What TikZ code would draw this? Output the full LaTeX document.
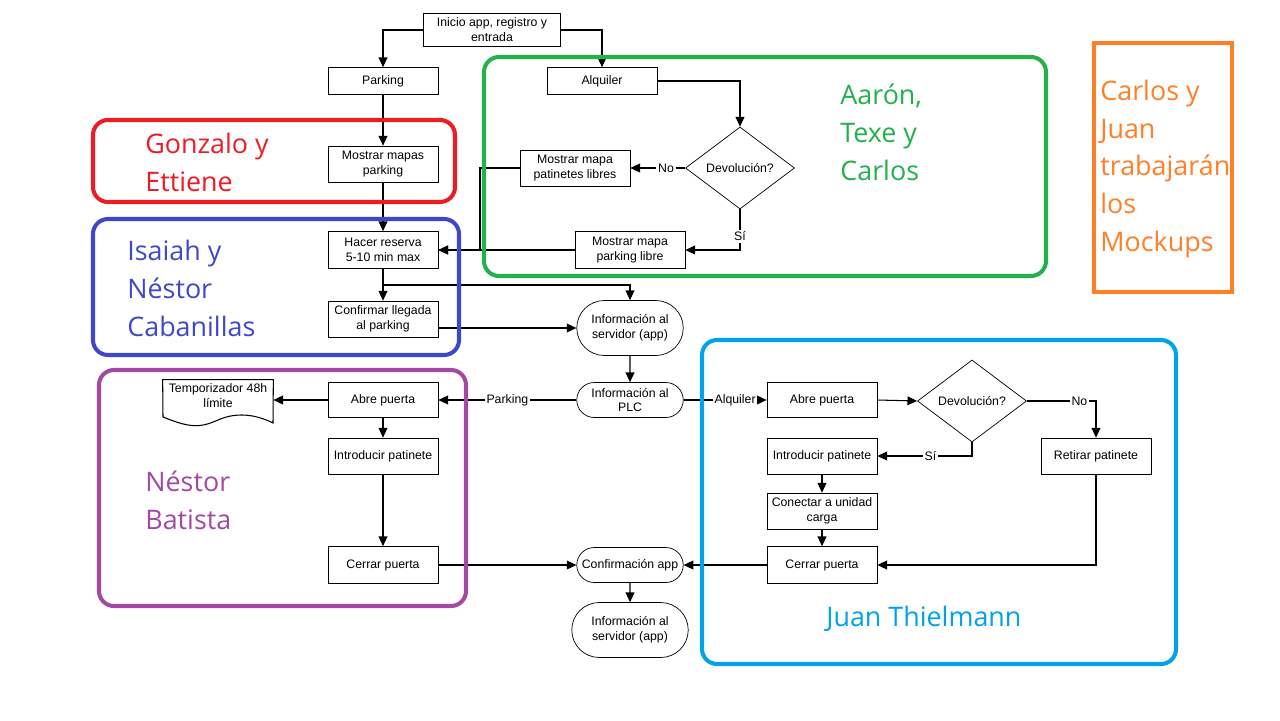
\documentclass[tikz,border=0pt]{standalone}
\usepackage{fontspec}
\setmainfont{Liberation Sans}
\newfontfamily\namefont{Open Sans}
\usetikzlibrary{shapes.geometric,shapes.misc,arrows.meta}

\definecolor{teamred}{RGB}{237,28,36}
\definecolor{teamblue}{RGB}{63,72,204}
\definecolor{teamgreen}{RGB}{34,177,76}
\definecolor{teampurple}{RGB}{163,73,164}
\definecolor{teamcyan}{RGB}{0,162,232}
\definecolor{teamorange}{RGB}{255,127,39}

\tikzstyle{block} = [draw, rectangle, fill=white, minimum width=2.2cm,
    minimum height=0.72cm, inner sep=1pt, align=center,
    font=\fontsize{7}{8.5}\selectfont]
\tikzstyle{pill} = [block, rounded rectangle, minimum height=1.1cm]
\tikzstyle{decision} = [block, diamond, minimum width=2.18cm,
    minimum height=1.64cm, inner sep=0pt]
\tikzstyle{flow} = [draw, line width=0.6pt, -{Triangle[length=5.5pt,width=5pt]}]
\tikzstyle{cond} = [fill=white, inner sep=1pt, font=\fontsize{7}{8.5}\selectfont]
\tikzstyle{team} = [line width=2.3pt, rounded corners=0.3cm]
\tikzstyle{teamname} = [anchor=west, align=left, inner sep=0pt,
    font=\namefont\fontsize{15.3}{21.6}\selectfont]

\begin{document}
\begin{tikzpicture}[x=0.02cm, y=-0.02cm]
\useasboundingbox (0,0) rectangle (1280,720);

% top of the app
\node [block, minimum width=2.74cm, minimum height=0.66cm] (inicio) at (492,30) {Inicio app, registro y\\entrada};
\node [block, minimum height=0.54cm] (parking) at (383,81) {Parking};
\node [block, minimum height=0.54cm] (alquiler) at (602,81) {Alquiler};

% parking branch
\node [block] (mapas) at (383,164) {Mostrar mapas\\parking};
\node [block, minimum height=0.74cm] (reserva) at (383,250) {Hacer reserva\\5-10 min max};
\node [block] (confirmar) at (383,319) {Confirmar llegada\\al parking};

% alquiler branch
\node [decision] (devol1) at (740,168) {Devolución?};
\node [block] (patlibres) at (575,168) {Mostrar mapa\\patinetes libres};
\node [block, minimum height=0.74cm] (parklibre) at (630,250) {Mostrar mapa\\parking libre};

% server and PLC
\node [pill] (info1) at (630,328) {Información al\\servidor (app)};
\node [pill, minimum height=0.7cm] (plc) at (630,400) {Información al\\PLC};

% door, parking side
\node [block, minimum height=0.7cm] (abre1) at (383,400) {Abre puerta};
\node [block, draw=none, fill=none, minimum height=0.64cm] (temp) at (218,396) {Temporizador 48h\\límite};
\node [block] (intro1) at (383,456) {Introducir patinete};
\node [block, minimum height=0.74cm] (cerrar1) at (383,565) {Cerrar puerta};

% door, alquiler side
\node [block, minimum height=0.7cm] (abre2) at (822,400) {Abre puerta};
\node [decision] (devol2) at (972,401) {Devolución?};
\node [block] (intro2) at (822,456) {Introducir patinete};
\node [block] (retirar) at (1096,456) {Retirar patinete};
\node [block] (conectar) at (822,511) {Conectar a unidad\\carga};
\node [block, minimum height=0.74cm] (cerrar2) at (822,565) {Cerrar puerta};

% end
\node [pill, minimum height=0.7cm] (confapp) at (630,565) {Confirmación app};
\node [pill, minimum width=2.4cm] (info2) at (630,630) {Información al\\servidor (app)};

% document shape of the timer
\draw [line width=0.6pt] (temp.north west) -- (temp.north east) -- (273,423)
    .. controls (255,414) and (236,412) .. (218,420)
    .. controls (200,428) and (190,428) .. (163,417) -- cycle;

\coordinate (jn) at (480,250);
\coordinate (br1) at (383,285);

\path [flow] (inicio.west) -| (parking.north);
\path [flow] (inicio.east) -| (alquiler.north);
\path [flow] (parking) -- (mapas);
\path [flow] (mapas) -- (reserva);
\path [flow] (alquiler.east) -| (devol1.north);
\path [flow] (devol1.west) -- node[cond, pos=0.35] {No} (patlibres.east);
\path [flow] (devol1.south) |- node[cond, pos=0.33] {Sí} (parklibre.east);
\path [flow] (patlibres.west) -| (jn) -- (reserva.east);
\path [flow] (parklibre.west) -- (reserva.east);
\path [flow] (reserva) -- (confirmar);
\path [flow] (br1) -| (info1.north);
\path [flow] (info1.west -| confirmar.east) -- (info1.west);
\path [flow] (info1) -- (plc);
\path [flow] (plc.west) -- node[cond] {Parking} (abre1.east);
\path [flow] (abre1.west) -- (temp.east |- abre1.west);
\path [flow] (abre1) -- (intro1);
\path [flow] (intro1) -- (cerrar1);
\path [flow] (cerrar1.east) -- (confapp.west);
\path [flow] (plc.east) -- node[cond, pos=0.62] {Alquiler} (abre2.west);
\path [flow] (abre2.east) -- (devol2.west);
\path [flow] (devol2.east) -| node[cond, pos=0.38] {No} (retirar.north);
\path [flow] (devol2.south) |- node[cond, pos=0.72] {Sí} (intro2.east);
\path [flow] (intro2) -- (conectar);
\path [flow] (conectar) -- (cerrar2);
\path [flow] (retirar.south) |- (cerrar2.east);
\path [flow] (cerrar2.west) -- (confapp.east);
\path [flow] (confapp) -- (info2);

% teams
\draw [team, teamred] (93,120) rectangle (455,202);
\draw [team, teamblue] (93,219) rectangle (459,355);
\draw [team, teamgreen] (484,57) rectangle (1046,276);
\draw [team, teampurple] (99,370) rectangle (466,606);
\draw [team, teamcyan] (702,340) rectangle (1176,664);
\draw [line width=2.3pt, teamorange] (1094,43) rectangle (1232,292);

\node [teamname, text=teamred] (gonzalo) at (145,162) {Gonzalo y\\Ettiene};
\node [teamname, text=teamblue] (isaiah) at (127,288) {Isaiah y\\Néstor\\Cabanillas};
\node [teamname, text=teamgreen] (aaron) at (840,132) {Aarón,\\Texe y\\Carlos};
\node [teamname, text=teamorange] (mockups) at (1100,169) {Carlos y\\Juan\\trabajarán\\los\\Mockups};
\node [teamname, text=teampurple] (batista) at (145,500) {Néstor\\Batista};
\node [teamname, text=teamcyan] (thielmann) at (826,619) {Juan Thielmann};

\end{tikzpicture}
\end{document}
